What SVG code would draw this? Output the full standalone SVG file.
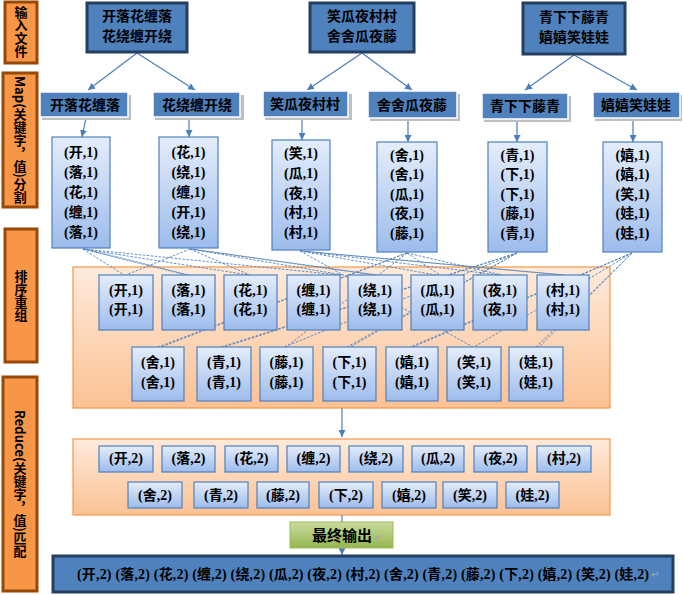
<svg xmlns="http://www.w3.org/2000/svg" width="683" height="595" viewBox="0 0 683 595">
<defs>
<linearGradient id="gPair" x1="0" y1="0" x2="0" y2="1"><stop offset="0" stop-color="#E4EDFB"/><stop offset="1" stop-color="#9DBCEC"/></linearGradient>
<linearGradient id="gOrange" x1="0" y1="0" x2="0" y2="1"><stop offset="0" stop-color="#FEEADB"/><stop offset="1" stop-color="#FBC193"/></linearGradient>
<linearGradient id="gGreen" x1="0" y1="0" x2="0" y2="1"><stop offset="0" stop-color="#C9DC9F"/><stop offset="1" stop-color="#94B650"/></linearGradient>
<marker id="arr" viewBox="0 0 10 10" refX="10" refY="5" markerWidth="7" markerHeight="7" orient="auto" markerUnits="userSpaceOnUse"><path d="M0,0 L10,5 L0,10 z" fill="#4A7EBB"/></marker>
<style>
.bar{fill:#F79646;stroke:#984807;stroke-width:3}
.vt{font-family:"Noto Sans CJK SC","Liberation Serif",sans-serif;font-weight:bold;font-size:13px;fill:#000;writing-mode:vertical-rl;text-orientation:mixed}
.inp{fill:#4F81BD;stroke:#243F60;stroke-width:3}
.inpt{font-family:"Noto Sans CJK SC",sans-serif;font-weight:bold;font-size:14px;fill:#000;text-anchor:middle}
.key{fill:#4F81BD;stroke:#FFFFFF;stroke-width:1.5}
.sh{fill:#BFBFBF}
.keyt{font-family:"Noto Sans CJK SC",sans-serif;font-weight:bold;font-size:14px;fill:#000;text-anchor:middle}
.pair{fill:url(#gPair);stroke:#4F81BD;stroke-width:1.2}
.pt{font-family:"Liberation Serif","Noto Sans CJK SC",serif;font-weight:bold;font-size:14px;fill:#000;text-anchor:middle}
.reg{fill:url(#gOrange);stroke:#F79646;stroke-width:1.2}
.arrow{stroke:#4A7EBB;stroke-width:1.2;fill:none;marker-end:url(#arr)}
.dash{stroke:#4F81BD;stroke-width:0.9;stroke-dasharray:2.5 1.5;fill:none}
.green{fill:url(#gGreen);stroke:#9BBB59;stroke-width:1}
.final{fill:#4F81BD;stroke:#243F60;stroke-width:3}
.ret{font-family:"DejaVu Sans",sans-serif;font-size:10px;fill:#A6A6A6}
</style>
</defs>
<rect width="683" height="595" fill="#FFFFFF"/>

<g id="stage-labels">
<g id="lbl-input"><rect class="bar" x="5" y="2" width="32" height="61"/><text class="vt" x="21" y="32" text-anchor="middle">输入文件</text></g>
<g id="lbl-map"><rect class="bar" x="3" y="73" width="34" height="134"/><text class="vt" x="20" y="140" text-anchor="middle">Map(关键字，值)分割</text></g>
<g id="lbl-sort"><rect class="bar" x="5" y="229" width="32" height="133"/><text class="vt" x="21" y="296" text-anchor="middle">排序重组</text></g>
<g id="lbl-reduce"><rect class="bar" x="3" y="377" width="34" height="214"/><text class="vt" x="20" y="484" text-anchor="middle">Reduce(关键字，值)匹配</text></g>
</g>

<g id="regions">
<rect id="sort-region" class="reg" x="73" y="267" width="537" height="141"/>
<rect id="reduce-region" class="reg" x="73" y="439" width="537" height="76"/>
</g>

<g id="connectors">
<line class="arrow" x1="137" y1="53" x2="88" y2="90"/>
<line class="arrow" x1="137" y1="53" x2="195" y2="90"/>
<line class="arrow" x1="362" y1="53" x2="307" y2="90"/>
<line class="arrow" x1="362" y1="53" x2="412" y2="90"/>
<line class="arrow" x1="574" y1="55" x2="525" y2="90"/>
<line class="arrow" x1="574" y1="55" x2="637" y2="90"/>
<line class="arrow" x1="86" y1="118" x2="82" y2="137"/>
<line class="arrow" x1="189" y1="118" x2="189" y2="137"/>
<line class="arrow" x1="302" y1="118" x2="302" y2="140"/>
<line class="arrow" x1="408" y1="119" x2="408" y2="142"/>
<line class="arrow" x1="517" y1="120" x2="517" y2="142"/>
<line class="arrow" x1="633" y1="119" x2="633" y2="142"/>
<line class="dash" x1="83" y1="249" x2="124" y2="275"/>
<line class="dash" x1="83" y1="249" x2="186" y2="275"/>
<line class="dash" x1="85" y1="249" x2="189" y2="275"/>
<line class="dash" x1="83" y1="249" x2="249" y2="275"/>
<line class="dash" x1="83" y1="249" x2="340" y2="275"/>
<line class="dash" x1="190" y1="249" x2="126" y2="275"/>
<line class="dash" x1="190" y1="249" x2="250" y2="275"/>
<line class="dash" x1="190" y1="249" x2="343" y2="275"/>
<line class="dash" x1="190" y1="249" x2="374" y2="275"/>
<line class="dash" x1="192" y1="249" x2="377" y2="275"/>
<line class="dash" x1="300" y1="251" x2="473" y2="347"/>
<line class="dash" x1="300" y1="251" x2="436" y2="275"/>
<line class="dash" x1="300" y1="251" x2="500" y2="275"/>
<line class="dash" x1="300" y1="251" x2="562" y2="275"/>
<line class="dash" x1="302" y1="251" x2="565" y2="275"/>
<line class="dash" x1="407" y1="253" x2="158" y2="347"/>
<line class="dash" x1="407" y1="253" x2="161" y2="347"/>
<line class="dash" x1="407" y1="253" x2="440" y2="275"/>
<line class="dash" x1="407" y1="253" x2="502" y2="275"/>
<line class="dash" x1="407" y1="253" x2="286" y2="347"/>
<line class="dash" x1="517" y1="253" x2="221" y2="347"/>
<line class="dash" x1="517" y1="253" x2="224" y2="347"/>
<line class="dash" x1="517" y1="253" x2="347" y2="347"/>
<line class="dash" x1="517" y1="253" x2="350" y2="347"/>
<line class="dash" x1="517" y1="253" x2="284" y2="347"/>
<line class="dash" x1="632" y1="253" x2="410" y2="347"/>
<line class="dash" x1="632" y1="253" x2="413" y2="347"/>
<line class="dash" x1="632" y1="253" x2="474" y2="347"/>
<line class="dash" x1="632" y1="253" x2="536" y2="347"/>
<line class="dash" x1="632" y1="253" x2="539" y2="347"/>
<line class="arrow" x1="342" y1="408" x2="342" y2="437"/>
<line class="arrow" x1="342" y1="515" x2="342" y2="555"/>
</g>

<g id="input-files">
<g id="in1"><rect class="inp" x="87" y="3" width="100" height="49"/><text class="inpt" x="137" y="21">开落花缠落</text><text class="inpt" x="137" y="41">花绕缠开绕</text></g>
<g id="in2"><rect class="inp" x="310" y="3" width="104" height="49"/><text class="inpt" x="362" y="21">笑瓜夜村村</text><text class="inpt" x="362" y="41">舍舍瓜夜藤</text></g>
<g id="in3"><rect class="inp" x="523" y="3" width="102" height="51"/><text class="inpt" x="574" y="22">青下下藤青</text><text class="inpt" x="574" y="42">嬉嬉笑娃娃</text></g>
</g>

<g id="map-keys">
<g id="k1"><rect class="sh" x="42" y="95" width="89" height="25"/><rect class="key" x="40" y="92" width="88" height="25"/><text class="keyt" x="85" y="110">开落花缠落</text></g>
<g id="k2"><rect class="sh" x="155" y="95" width="89" height="25"/><rect class="key" x="153" y="92" width="87" height="25"/><text class="keyt" x="197" y="110">花绕缠开绕</text></g>
<g id="k3"><rect class="sh" x="265" y="94" width="87" height="26"/><rect class="key" x="263" y="91" width="85" height="26"/><text class="keyt" x="305" y="109">笑瓜夜村村</text></g>
<g id="k4"><rect class="sh" x="370" y="94" width="90" height="27"/><rect class="key" x="368" y="91" width="89" height="27"/><text class="keyt" x="412" y="110">舍舍瓜夜藤</text></g>
<g id="k5"><rect class="sh" x="484" y="96" width="87" height="26"/><rect class="key" x="482" y="93" width="86" height="26"/><text class="keyt" x="525" y="111">青下下藤青</text></g>
<g id="k6"><rect class="sh" x="595" y="95" width="87" height="26"/><rect class="key" x="593" y="92" width="87" height="26"/><text class="keyt" x="636" y="110">嬉嬉笑娃娃</text></g>
</g>

<g id="map-pairs">
<g id="p1"><rect class="pair" x="52" y="137" width="58" height="111"/>
<text class="pt" x="81" y="157">(开,1)</text><text class="pt" x="81" y="177">(落,1)</text><text class="pt" x="81" y="197">(花,1)</text><text class="pt" x="81" y="217">(缠,1)</text><text class="pt" x="81" y="237">(落,1)</text></g>
<g id="p2"><rect class="pair" x="159" y="137" width="59" height="111"/>
<text class="pt" x="188.5" y="157">(花,1)</text><text class="pt" x="188.5" y="177">(绕,1)</text><text class="pt" x="188.5" y="197">(缠,1)</text><text class="pt" x="188.5" y="217">(开,1)</text><text class="pt" x="188.5" y="237">(绕,1)</text></g>
<g id="p3"><rect class="pair" x="272" y="140" width="58" height="110"/>
<text class="pt" x="301" y="158">(笑,1)</text><text class="pt" x="301" y="178">(瓜,1)</text><text class="pt" x="301" y="198">(夜,1)</text><text class="pt" x="301" y="217">(村,1)</text><text class="pt" x="301" y="237">(村,1)</text></g>
<g id="p4"><rect class="pair" x="377" y="142" width="60" height="110"/>
<text class="pt" x="407" y="160">(舍,1)</text><text class="pt" x="407" y="179">(舍,1)</text><text class="pt" x="407" y="199">(瓜,1)</text><text class="pt" x="407" y="218">(夜,1)</text><text class="pt" x="407" y="238">(藤,1)</text></g>
<g id="p5"><rect class="pair" x="488" y="142" width="59" height="110"/>
<text class="pt" x="517.5" y="160">(青,1)</text><text class="pt" x="517.5" y="179">(下,1)</text><text class="pt" x="517.5" y="199">(下,1)</text><text class="pt" x="517.5" y="218">(藤,1)</text><text class="pt" x="517.5" y="238">(青,1)</text></g>
<g id="p6"><rect class="pair" x="603" y="142" width="59" height="110"/>
<text class="pt" x="632.5" y="160">(嬉,1)</text><text class="pt" x="632.5" y="179">(嬉,1)</text><text class="pt" x="632.5" y="199">(笑,1)</text><text class="pt" x="632.5" y="218">(娃,1)</text><text class="pt" x="632.5" y="238">(娃,1)</text></g>
</g>

<g id="sort-boxes">
<g id="s-kai"><rect class="pair" x="99" y="275" width="54" height="55"/><text class="pt" x="126" y="295">(开,1)</text><text class="pt" x="126" y="314">(开,1)</text></g>
<g id="s-luo"><rect class="pair" x="162" y="275" width="53" height="55"/><text class="pt" x="188.5" y="295">(落,1)</text><text class="pt" x="188.5" y="314">(落,1)</text></g>
<g id="s-hua"><rect class="pair" x="224" y="275" width="53" height="55"/><text class="pt" x="250.5" y="295">(花,1)</text><text class="pt" x="250.5" y="314">(花,1)</text></g>
<g id="s-chan"><rect class="pair" x="287" y="275" width="53" height="55"/><text class="pt" x="313.5" y="295">(缠,1)</text><text class="pt" x="313.5" y="314">(缠,1)</text></g>
<g id="s-rao"><rect class="pair" x="348" y="275" width="54" height="55"/><text class="pt" x="375" y="295">(绕,1)</text><text class="pt" x="375" y="314">(绕,1)</text></g>
<g id="s-gua"><rect class="pair" x="411" y="275" width="53" height="55"/><text class="pt" x="437.5" y="295">(瓜,1)</text><text class="pt" x="437.5" y="314">(瓜,1)</text></g>
<g id="s-ye"><rect class="pair" x="473" y="275" width="54" height="55"/><text class="pt" x="500" y="295">(夜,1)</text><text class="pt" x="500" y="314">(夜,1)</text></g>
<g id="s-cun"><rect class="pair" x="537" y="275" width="52" height="55"/><text class="pt" x="563" y="295">(村,1)</text><text class="pt" x="563" y="314">(村,1)</text></g>
<g id="s-she"><rect class="pair" x="132" y="347" width="52" height="54"/><text class="pt" x="158" y="367">(舍,1)</text><text class="pt" x="158" y="387">(舍,1)</text></g>
<g id="s-qing"><rect class="pair" x="197" y="347" width="54" height="54"/><text class="pt" x="224" y="367">(青,1)</text><text class="pt" x="224" y="387">(青,1)</text></g>
<g id="s-teng"><rect class="pair" x="260" y="347" width="53" height="54"/><text class="pt" x="286.5" y="367">(藤,1)</text><text class="pt" x="286.5" y="387">(藤,1)</text></g>
<g id="s-xia"><rect class="pair" x="323" y="347" width="53" height="54"/><text class="pt" x="349.5" y="367">(下,1)</text><text class="pt" x="349.5" y="387">(下,1)</text></g>
<g id="s-xi"><rect class="pair" x="386" y="347" width="52" height="54"/><text class="pt" x="412" y="367">(嬉,1)</text><text class="pt" x="412" y="387">(嬉,1)</text></g>
<g id="s-xiao"><rect class="pair" x="447" y="347" width="54" height="54"/><text class="pt" x="474" y="367">(笑,1)</text><text class="pt" x="474" y="387">(笑,1)</text></g>
<g id="s-wa"><rect class="pair" x="509" y="347" width="54" height="54"/><text class="pt" x="536" y="367">(娃,1)</text><text class="pt" x="536" y="387">(娃,1)</text></g>
</g>

<g id="reduce-boxes">
<g id="r-kai"><rect class="pair" x="99" y="446" width="54" height="26"/><text class="pt" x="126" y="463">(开,2)</text></g>
<g id="r-luo"><rect class="pair" x="162" y="446" width="53" height="26"/><text class="pt" x="188.5" y="463">(落,2)</text></g>
<g id="r-hua"><rect class="pair" x="225" y="446" width="53" height="26"/><text class="pt" x="251.5" y="463">(花,2)</text></g>
<g id="r-chan"><rect class="pair" x="287" y="446" width="53" height="26"/><text class="pt" x="313.5" y="463">(缠,2)</text></g>
<g id="r-rao"><rect class="pair" x="349" y="446" width="54" height="26"/><text class="pt" x="376" y="463">(绕,2)</text></g>
<g id="r-gua"><rect class="pair" x="412" y="446" width="52" height="26"/><text class="pt" x="438" y="463">(瓜,2)</text></g>
<g id="r-ye"><rect class="pair" x="474" y="446" width="53" height="26"/><text class="pt" x="500.5" y="463">(夜,2)</text></g>
<g id="r-cun"><rect class="pair" x="537" y="446" width="54" height="26"/><text class="pt" x="564" y="463">(村,2)</text></g>
<g id="r-she"><rect class="pair" x="128" y="482" width="54" height="26"/><text class="pt" x="155" y="500">(舍,2)</text></g>
<g id="r-qing"><rect class="pair" x="194" y="482" width="54" height="26"/><text class="pt" x="221" y="500">(青,2)</text></g>
<g id="r-teng"><rect class="pair" x="257" y="482" width="52" height="26"/><text class="pt" x="283" y="500">(藤,2)</text></g>
<g id="r-xia"><rect class="pair" x="319" y="482" width="54" height="26"/><text class="pt" x="346" y="500">(下,2)</text></g>
<g id="r-xi"><rect class="pair" x="382" y="482" width="54" height="26"/><text class="pt" x="409" y="500">(嬉,2)</text></g>
<g id="r-xiao"><rect class="pair" x="443" y="482" width="54" height="26"/><text class="pt" x="470" y="500">(笑,2)</text></g>
<g id="r-wa"><rect class="pair" x="506" y="482" width="53" height="26"/><text class="pt" x="532.5" y="500">(娃,2)</text></g>
</g>

<g id="final-label"><rect class="green" x="290" y="522" width="103" height="26"/><text class="keyt" x="342" y="541" style="font-size:15px">最终输出</text><text class="ret" x="374" y="541">↵</text></g>

<g id="final-output"><rect class="final" x="53" y="556" width="620" height="36"/><text class="pt" x="77" y="579" style="text-anchor:start" textLength="572" lengthAdjust="spacing">(开,2) (落,2) (花,2) (缠,2) (绕,2) (瓜,2) (夜,2) (村,2) (舍,2) (青,2) (藤,2) (下,2) (嬉,2) (笑,2) (娃,2)</text><text class="ret" x="651" y="578">↵</text></g>
</svg>
